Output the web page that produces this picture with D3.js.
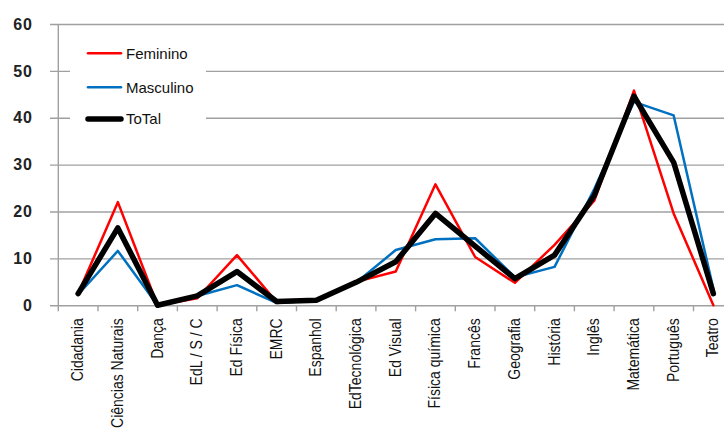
<!DOCTYPE html>
<html>
<head>
<meta charset="utf-8">
<script src="https://cdn.jsdelivr.net/npm/d3@7"></script>
<style>
  body { margin: 0; background: #fff; }
  svg { display: block; font-family: "Liberation Sans", Arial, sans-serif; }
</style>
</head>
<body>
<script>
// disciplinas
var categories = ["Cidadania", "Ciências Naturais", "Dança", "EdL / S / C", "Ed Física", "EMRC",
    "Espanhol", "EdTecnológica", "Ed Visual", "Física química", "Francês", "Geografia",
    "História", "Inglês", "Matemática", "Português", "Teatro"];

var feminino  = [2.5, 22.0, 0, 1.5, 10.7, 0.7, 1.0, 5.0, 7.2, 25.8, 10.3, 4.8, 12.9, 22.3, 45.8, 19.6, 0];
var masculino = [2.3, 11.6, 0, 2.0, 4.3, 0.5, 1.0, 4.8, 11.8, 14.1, 14.3, 6.0, 8.2, 24.8, 43.4, 40.5, 3.5];
var total     = [2.5, 16.5, 0, 2.0, 7.2, 0.8, 1.1, 4.9, 9.3, 19.6, 12.6, 5.7, 10.7, 23.4, 44.6, 30.5, 2.5];

var yTicks = [0, 10, 20, 30, 40, 50, 60];

var series = [
    { name: "Feminino",  values: feminino,  color: "#ff0000", width: 2.5 },
    { name: "Masculino", values: masculino, color: "#0070c0", width: 2.5 },
    { name: "ToTal",     values: total,     color: "#000000", width: 5.5 }
];

var width = 724, height = 432;

var svg = d3.select("body").append("svg")
    .attr("width", width)
    .attr("height", height);

var x = d3.scaleBand().domain(categories).range([58.3, 733.2]).padding(0);
var y = d3.scaleLinear().domain([0, 60]).range([305.3, 24]);

// ====== GRID / Y AXIS ======
var yAxis = svg.append("g")
    .attr("transform", "translate(50,0)")
    .call(d3.axisLeft(y).tickValues(yTicks).tickSize(-(width - 50)).tickPadding(17));
yAxis.select(".domain").remove();
yAxis.selectAll(".tick line").style("stroke", "#a0a0a0").style("stroke-width", 1.4);
yAxis.selectAll(".tick text")
    .style("font-size", "16px")
    .style("font-weight", "bold")
    .style("letter-spacing", "1px")
    .style("fill", "#222")
    .style("font-family", "Liberation Sans, Arial, sans-serif");

svg.append("line")
    .attr("x1", 58.3).attr("x2", 58.3)
    .attr("y1", y(60)).attr("y2", y(0))
    .style("stroke", "#a0a0a0").style("stroke-width", 1.4);

// ====== X AXIS ======
var xAxis = svg.append("g")
    .attr("transform", "translate(0," + y(0) + ")")
    .call(d3.axisBottom(x).tickSize(0));
xAxis.select(".domain").remove();
xAxis.selectAll(".tick text")
    .attr("x", -13)
    .attr("y", 0)
    .attr("dy", "0.3em")
    .attr("transform", "rotate(-90) scale(1,1.2)")
    .style("text-anchor", "end")
    .style("font-size", "14px")
    .style("fill", "#111")
    .style("font-family", "Liberation Sans, Arial, sans-serif");

// ticks between categories
var bounds = d3.range(categories.length + 1).map(function(i) { return x.range()[0] + i * x.step(); });
svg.selectAll(".xtick")
    .data(bounds)
    .enter().append("line")
        .attr("class", "xtick")
        .attr("x1", function(d) { return d })
        .attr("x2", function(d) { return d })
        .attr("y1", y(0))
        .attr("y2", y(0) + 6)
        .style("stroke", "#a0a0a0").style("stroke-width", 1.4);

// ====== LEGEND BOX (covers gridlines) ======
svg.append("rect")
    .attr("x", 70).attr("y", 36)
    .attr("width", 136).attr("height", 92)
    .style("fill", "#fff");

// ====== LINES ======
var line = d3.line()
    .x(function(d, i) { return x(categories[i]) + x.bandwidth() / 2 })
    .y(function(d) { return y(d) });

svg.selectAll(".series")
    .data(series)
    .enter().append("path")
        .attr("class", "series")
        .attr("d", function(s) { return line(s.values) })
        .style("fill", "none")
        .style("stroke", function(s) { return s.color })
        .style("stroke-width", function(s) { return s.width })
        .style("stroke-linejoin", "round")
        .style("stroke-linecap", "round");

// ====== LEGEND ======
var legendY = [53.3, 87.3, 119];
var legend = svg.selectAll(".legend")
    .data(series)
    .enter().append("g")
        .attr("class", "legend")
        .attr("transform", function(d, i) { return "translate(0," + legendY[i] + ")" });

legend.append("line")
    .attr("x1", 88).attr("x2", 121)
    .attr("y1", 0).attr("y2", 0)
    .style("stroke", function(d) { return d.color })
    .style("stroke-width", function(d) { return d.width })
    .style("stroke-linecap", "round");

legend.append("text")
    .attr("x", 126)
    .attr("y", 0)
    .attr("dy", "0.36em")
    .style("font-size", "15px")
    .style("fill", "#111")
    .text(function(d) { return d.name });
</script>
</body>
</html>
